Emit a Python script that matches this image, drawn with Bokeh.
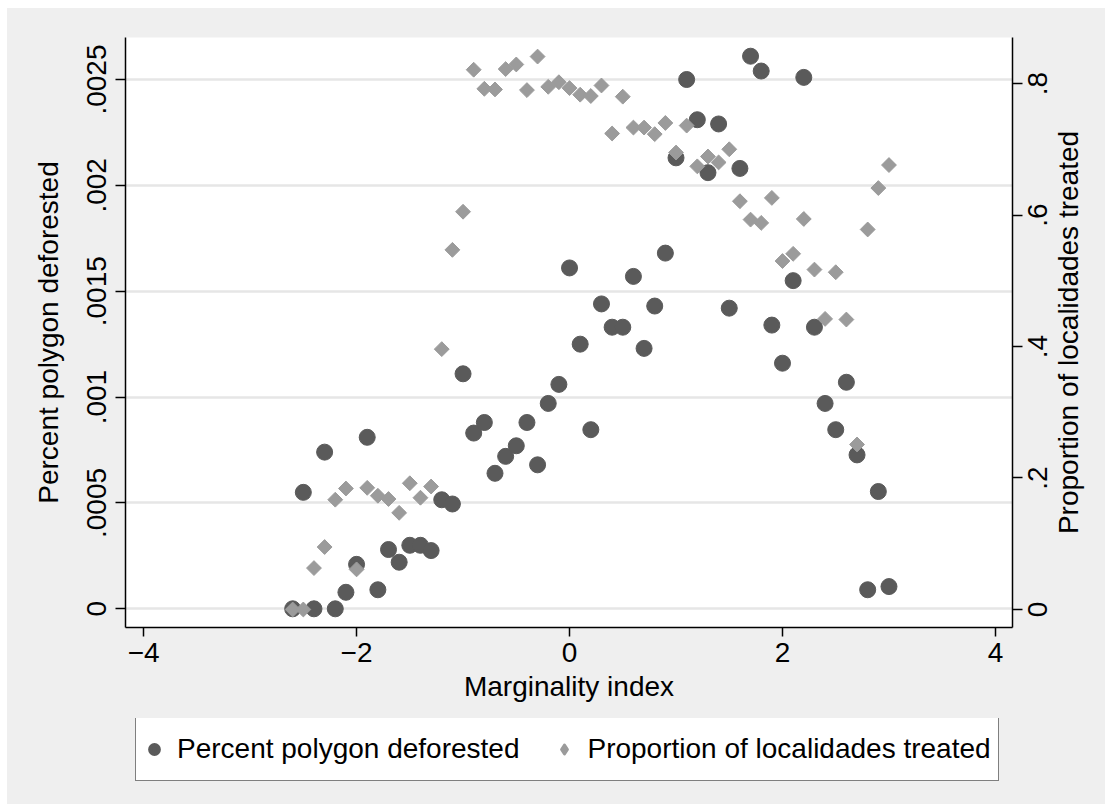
import math
from bokeh.plotting import figure
from bokeh.layouts import column
from bokeh.models import (Range1d, LinearAxis, FixedTicker, CustomJSTickFormatter,
                          Legend, LegendItem, ColumnDataSource, Label)
from bokeh.embed import file_html
from bokeh.resources import INLINE

marginality = [-2.6, -2.5, -2.4, -2.3, -2.2, -2.1, -2.0, -1.9, -1.8, -1.7,
               -1.6, -1.5, -1.4, -1.3, -1.2, -1.1, -1.0, -0.9, -0.8, -0.7,
               -0.6, -0.5, -0.4, -0.3, -0.2, -0.1, 0.0, 0.1, 0.2, 0.3,
               0.4, 0.5, 0.6, 0.7, 0.8, 0.9, 1.0, 1.1, 1.2, 1.3,
               1.4, 1.5, 1.6, 1.7, 1.8, 1.9, 2.0, 2.1, 2.2, 2.3,
               2.4, 2.5, 2.6, 2.7, 2.8, 2.9, 3.0]

pct_deforested = [0.0, 0.00055, 0.0, 0.00074, 0.0, 0.000078, 0.00021, 0.00081, 0.00009, 0.00028,
                  0.00022, 0.00030, 0.00030, 0.000275, 0.000515, 0.000495, 0.00111, 0.00083, 0.00088, 0.00064,
                  0.00072, 0.00077, 0.00088, 0.00068, 0.00097, 0.00106, 0.00161, 0.00125, 0.000846, 0.00144,
                  0.00133, 0.00133, 0.00157, 0.00123, 0.00143, 0.00168, 0.00213, 0.00250, 0.00231, 0.00206,
                  0.00229, 0.00142, 0.00208, 0.00261, 0.00254, 0.00134, 0.00116, 0.00155, 0.00251, 0.00133,
                  0.00097, 0.000846, 0.00107, 0.000727, 0.00009, 0.000554, 0.000105]

prop_treated = [0.0, 0.0, 0.063, 0.095, 0.167, 0.184, 0.061, 0.185, 0.173, 0.168,
                0.147, 0.192, 0.170, 0.187, 0.396, 0.547, 0.605, 0.821, 0.792, 0.791,
                0.822, 0.829, 0.790, 0.841, 0.795, 0.802, 0.793, 0.783, 0.781, 0.797,
                0.724, 0.780, 0.733, 0.733, 0.723, 0.740, 0.695, 0.736, 0.674, 0.689,
                0.680, 0.700, 0.621, 0.593, 0.588, 0.626, 0.530, 0.541, 0.594, 0.517,
                0.442, 0.513, 0.441, 0.251, 0.578, 0.641, 0.676]

left_ticks = [0, 0.0005, 0.001, 0.0015, 0.002, 0.0025]
right_ticks = [0, 0.2, 0.4, 0.6, 0.8]
right_tick_labels = ["0", ".2", ".4", ".6", ".8"]
x_ticks = [-4, -2, 0, 2, 4]
x_title = "Marginality index"
left_title = "Percent polygon deforested"
right_title = "Proportion of localidades treated"
series_names = ["Percent polygon deforested", "Proportion of localidades treated"]

FONT = "Liberation Sans"
BG = "#efefef"
FS = "28px"
C_DARK = "#5a5a5a"
C_LIGHT = "#9b9b9b"

X_LO, X_HI = -4.17, 4.16
FRAME_W, FRAME_H = 887, 590
R_LO, R_HI = -0.0274, 0.870
PPU_X = FRAME_W / (X_HI - X_LO)   # pixels per x unit

p = figure(frame_width=FRAME_W, frame_height=FRAME_H,
           min_border_left=118, min_border_right=85, min_border_top=29, min_border_bottom=91,
           x_range=Range1d(X_LO, X_HI), y_range=Range1d(-0.0000883, 0.0026984),
           output_backend="svg", toolbar_location=None,
           background_fill_color="white", border_fill_color=BG,
           outline_line_color=None)
p.extra_y_ranges = {"right": Range1d(R_LO, R_HI)}

src = ColumnDataSource(dict(x=marginality, d=pct_deforested, t=prop_treated))

p.scatter("x", "d", source=src, marker="circle", size=16,
          fill_color=C_DARK, line_color=C_DARK)
p.scatter("x", "t", source=src, y_range_name="right", marker="square",
          angle=math.pi / 4, size=10.5, fill_color=C_LIGHT, line_color=C_LIGHT)

num_fmt = CustomJSTickFormatter(code="""
if (tick == 0) return "0";
var s = String(Math.round(tick * 100000) / 100000);
if (s[0] == "0") s = s.substring(1);
return s;
""")
x_fmt = CustomJSTickFormatter(code="""
if (tick < 0) return "\u2212" + String(Math.abs(tick));
return String(tick);
""")

def style_axis(ax):
    ax.axis_line_color = "black"
    ax.axis_line_width = 1.5
    ax.major_tick_line_color = "black"
    ax.major_tick_line_width = 1.5
    ax.major_tick_out = 10
    ax.major_tick_in = 0
    ax.minor_tick_line_color = None
    ax.major_label_text_font = FONT
    ax.major_label_text_font_size = FS
    ax.major_label_text_color = "black"
    ax.axis_label_text_font = FONT
    ax.axis_label_text_font_size = FS
    ax.axis_label_text_font_style = "normal"
    ax.axis_label_text_color = "black"

xa = p.xaxis[0]
xa.ticker = FixedTicker(ticks=x_ticks)
xa.formatter = x_fmt
xa.axis_label = x_title
style_axis(xa)
xa.major_tick_out = 9
xa.major_label_standoff = 6
xa.axis_label_standoff = 6

ya = p.yaxis[0]
ya.ticker = FixedTicker(ticks=left_ticks)
ya.formatter = num_fmt
ya.axis_label = left_title
style_axis(ya)
ya.major_label_orientation = "vertical"
ya.major_label_standoff = 9
ya.axis_label_standoff = 21

# right axis: line + ticks; its labels are drawn as rotated text in the right panel
ra = LinearAxis(y_range_name="right", ticker=FixedTicker(ticks=right_ticks), formatter=num_fmt)
style_axis(ra)
ra.major_label_text_color = None
ra.major_label_text_font_size = "1px"
p.add_layout(ra, "right")

for tv, tl in zip(right_ticks, right_tick_labels):
    p.add_layout(Label(x=X_HI + 25 / PPU_X, y=tv, y_range_name="right", text=tl,
                       angle=math.pi / 2, text_align="center", text_baseline="middle",
                       text_font=FONT, text_font_size=FS, text_color="black"), "right")
p.add_layout(Label(x=X_HI + 56 / PPU_X, y=(R_LO + R_HI) / 2, y_range_name="right",
                   text=right_title, angle=math.pi / 2,
                   text_align="center", text_baseline="middle",
                   text_font=FONT, text_font_size=FS, text_color="black"), "right")

p.xgrid.grid_line_color = None
p.ygrid.grid_line_color = "#e6e6e6"
p.ygrid.grid_line_width = 2.5

# legend strip below the chart (its key glyphs reuse the data, kept out of view)
lg = figure(frame_width=FRAME_W, frame_height=86,
            min_border_left=118, min_border_right=85, min_border_top=0, min_border_bottom=0,
            x_range=Range1d(X_LO, X_HI), y_range=Range1d(2, 3),
            x_axis_type=None, y_axis_type=None,
            output_backend="svg", toolbar_location=None,
            background_fill_color=BG, border_fill_color=BG, outline_line_color=None)
lg.grid.grid_line_color = None
k1 = lg.scatter("x", "d", source=src, marker="circle", size=16,
                fill_color=C_DARK, line_color=C_DARK, line_width=4)
k2 = lg.scatter("x", "t", source=src, marker="diamond", size=10.5,
                fill_color=C_LIGHT, line_color=C_LIGHT, line_width=3, line_join="round")

legend = Legend(items=[LegendItem(label=series_names[0], renderers=[k1], index=0),
                       LegendItem(label=series_names[1], renderers=[k2], index=0)],
                orientation="horizontal", location=(10, 23))
legend.label_text_font = FONT
legend.label_text_font_size = FS
legend.label_text_color = "black"
legend.glyph_width = 22
legend.glyph_height = 22
legend.label_height = 49
legend.label_standoff = 12
legend.spacing = 34
legend.padding = 7
legend.margin = 0
legend.border_line_color = "black"
legend.border_line_width = 1.5
legend.background_fill_color = "white"
legend.background_fill_alpha = 1.0
lg.add_layout(legend, "center")

layout = column(p, lg, spacing=0)
layout.margin = (8, 0, 0, 7)
layout.styles = {"background-color": BG}
open("out.html", "w").write(file_html(layout, INLINE))
